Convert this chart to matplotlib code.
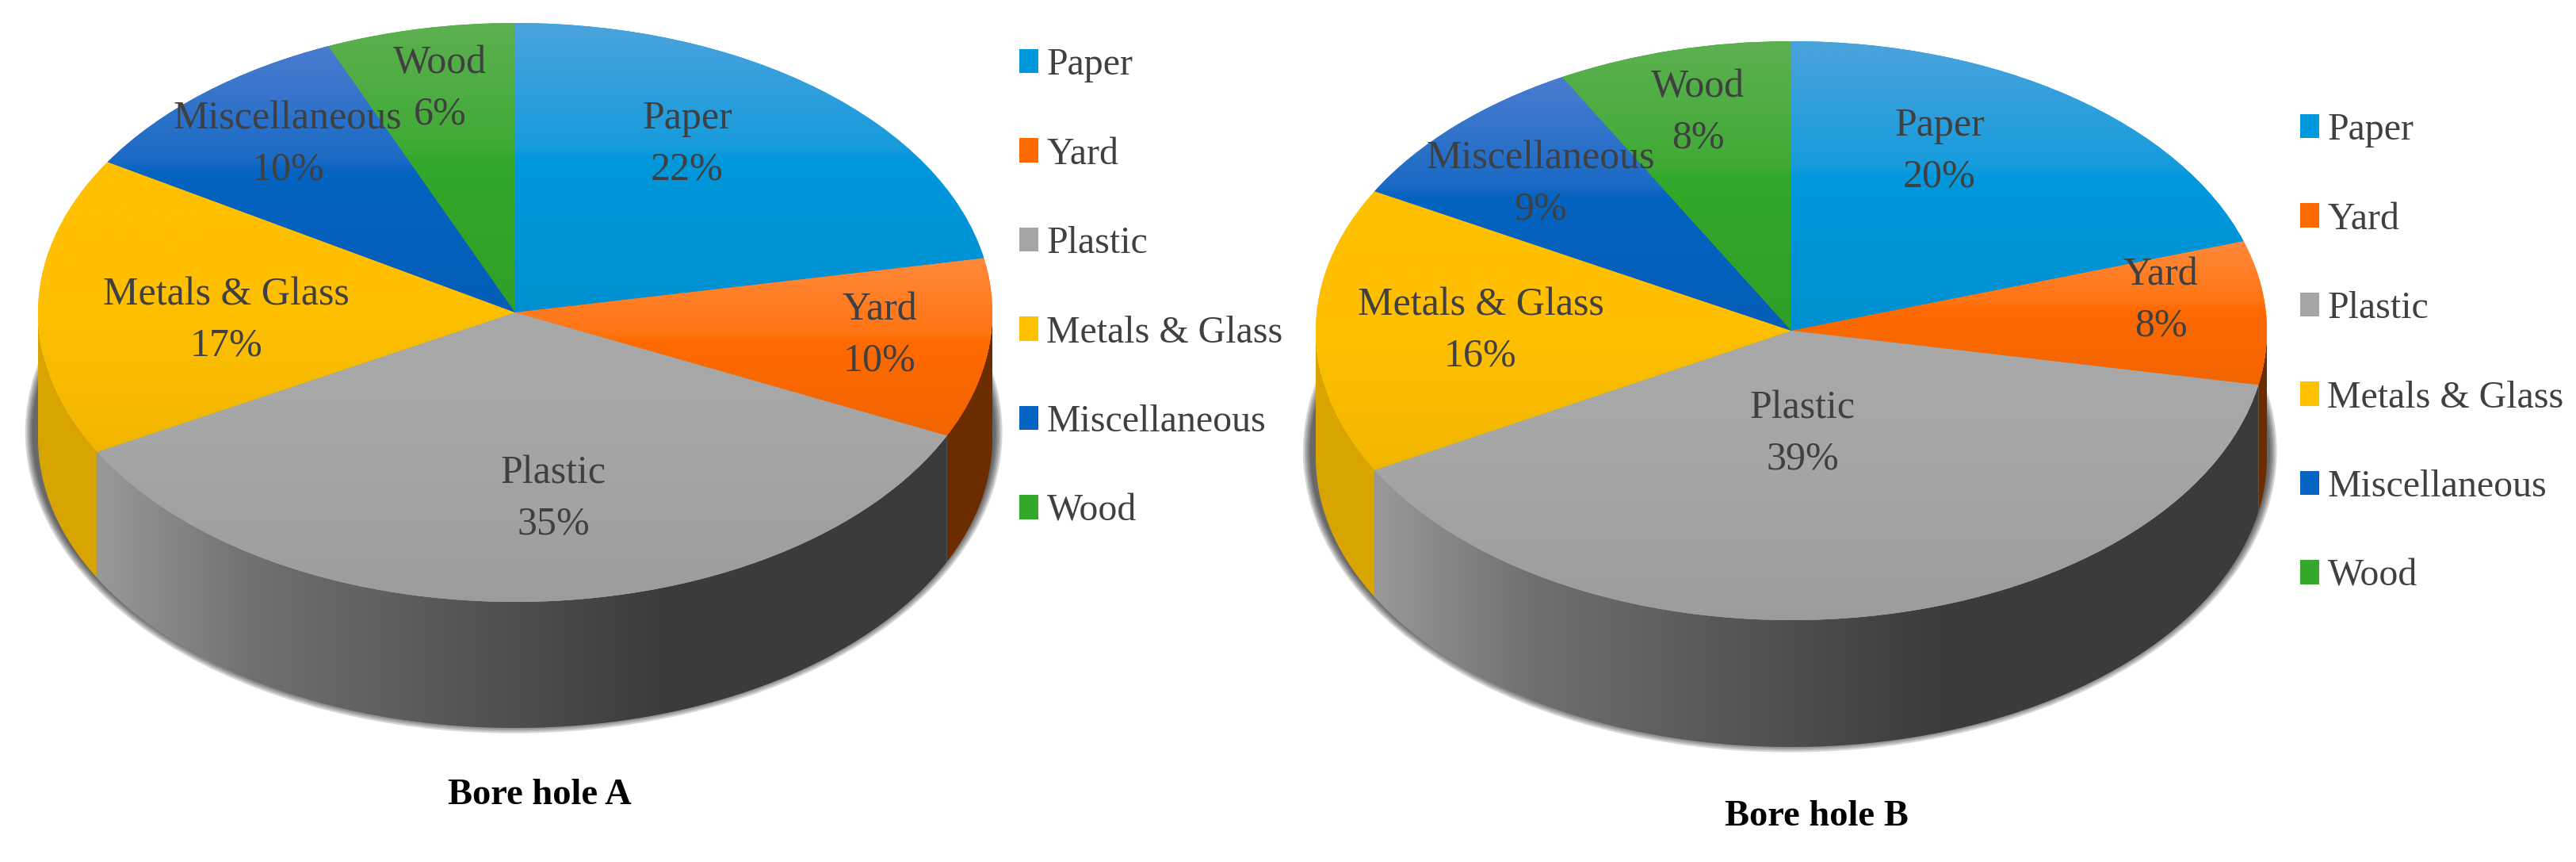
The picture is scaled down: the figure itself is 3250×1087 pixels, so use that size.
import numpy as np
import matplotlib
matplotlib.use('Agg')
import matplotlib.pyplot as plt
from matplotlib.colors import to_rgb
from matplotlib.patches import Ellipse, Polygon

categories = ['Paper', 'Yard', 'Plastic', 'Metals & Glass', 'Miscellaneous', 'Wood']
# slice sizes as read from the drawn boundaries, the labels are the rounded ones
values_a = [22, 10, 35, 16.7, 9.9, 6.4]
values_b = [20, 8, 39, 16, 9, 8]
percent_a = [22, 10, 35, 17, 10, 6]
percent_b = [20, 8, 39, 16, 9, 8]

colors = ['#0098DC', '#FF6A00', '#A5A5A5', '#FFC000', '#0563C1', '#33A82A']
top_colors = ['#4BA3DC', '#FF8A3C', '#A9A9A9', '#FFC000', '#4A7CCF', '#5DB050']
side_colors = ['#0078B0', '#6B2C00', '#8C8C8C', '#D8A400', '#03458A', '#20751A']

W, H = 3250, 1087
plt.rcParams['font.family'] = ['Liberation Serif', 'DejaVu Serif']
text_color = '#404040'


def fade(top, base, n=200):
    # top colour runs into the base colour, then slightly darker to the bottom
    u = np.linspace(0, 1, n)
    top, base = np.array(to_rgb(top)), np.array(to_rgb(base))
    img = np.zeros((n, 1, 3))
    for c in range(3):
        mid = top[c] * 0.3 + base[c] * 0.7
        img[:, 0, c] = np.interp(u, [0, 0.43, 0.47, 1], [top[c], mid, base[c], base[c] * 0.95])
    return img


def draw_pie(cx, cy, rx, ry, depth, values, percents, label_xy, legend_xy, legend_gap):
    ax = fig.add_axes([0, 0, 1, 1])
    ax.patch.set_alpha(0)
    d = depth / ry
    xlim = (-cx / rx, (W - cx) / rx)
    ylim = ((cy - H) / ry, cy / ry)

    # soft shadow under the body
    for k in [1.0, 0.85, 0.7, 0.55, 0.4]:
        ax.add_patch(Ellipse((-0.003, -0.95 * d), 2 * (1 + 0.024 * k), 2 * (1 + 0.04 * k), color='k', alpha=0.16, lw=0, zorder=1))

    wedges, _ = ax.pie(values, colors=colors, startangle=90, counterclock=False, radius=1,
                       wedgeprops={'linewidth': 0, 'zorder': 4})
    ax.set_aspect('auto')

    # side wall, only where the arc is on the front half
    edges = np.cumsum([0] + values) / sum(values) * 360.0
    for i in range(len(values)):
        t0, t1 = max(edges[i], 90), min(edges[i + 1], 270)
        if t1 <= t0:
            continue
        t = np.radians(np.linspace(t0, t1, 200))
        x, y = np.sin(t), np.cos(t)
        poly = Polygon(np.column_stack([np.r_[x, x[::-1]], np.r_[y, y[::-1] - d]]), color=side_colors[i], lw=0, zorder=2)
        ax.add_patch(poly)
        if categories[i] == 'Plastic':
            grad = np.zeros((1, 256, 3))
            u = np.linspace(x.min(), x.max(), 256)
            level = np.interp(u, [x.min(), -0.55, 0.3, x.max()], [0.60, 0.44, 0.235, 0.235])
            grad[0, :, :] = level[:, None]
            im = ax.imshow(grad, extent=[x.min(), x.max(), -1 - d, 0], aspect='auto', zorder=3, interpolation='bilinear')
            im.set_clip_path(poly)

    # top face: each wedge has its own fade
    for i, w in enumerate(wedges):
        t = np.radians(np.linspace(edges[i], edges[i + 1], 100))
        ys = np.r_[0, np.cos(t)]
        xs = np.r_[0, np.sin(t)]
        im = ax.imshow(fade(top_colors[i], colors[i]), extent=[xs.min(), xs.max(), ys.min(), ys.max()],
                       aspect='auto', zorder=5, interpolation='bilinear')
        im.set_clip_path(w)

    ax.set_xlim(xlim)
    ax.set_ylim(ylim)
    ax.axis('off')

    for name, v, (px, py) in zip(categories, percents, label_xy):
        ax.text((px - cx) / rx, (cy - py) / ry, f'{name}\n{v}%', ha='center', va='center', fontsize=36,
                color=text_color, linespacing=1.48, zorder=6)

    fig.legend(wedges, categories, loc='upper left', bbox_to_anchor=(legend_xy[0] / W, 1 - legend_xy[1] / H),
               frameon=False, fontsize=34.5, labelcolor=text_color, handlelength=0.5, handleheight=0.6,
               handletextpad=0.22, borderpad=0, borderaxespad=0, labelspacing=legend_gap)


fig = plt.figure(figsize=(W / 100, H / 100), dpi=100, facecolor='white')

labels_a = [(867, 182), (1110, 423), (698, 629), (285, 404), (363, 182), (555, 112)]
labels_b = [(2447, 191), (2726, 379), (2274, 547), (1868, 417), (1944, 232), (2142, 142)]

draw_pie(650, 394, 602, 365, 159, values_a, percent_a, labels_a, (1286, 60), 1.43)
draw_pie(2260, 417, 600, 365, 160, values_b, percent_b, labels_b, (2902, 142), 1.43)

fig.text(681 / W, 1 - 1003 / H, 'Bore hole A', ha='center', va='center', fontsize=33.5, fontweight='bold', color='black')
fig.text(2292 / W, 1 - 1030 / H, 'Bore hole B', ha='center', va='center', fontsize=33.5, fontweight='bold', color='black')

fig.savefig('out.png', dpi=100)
